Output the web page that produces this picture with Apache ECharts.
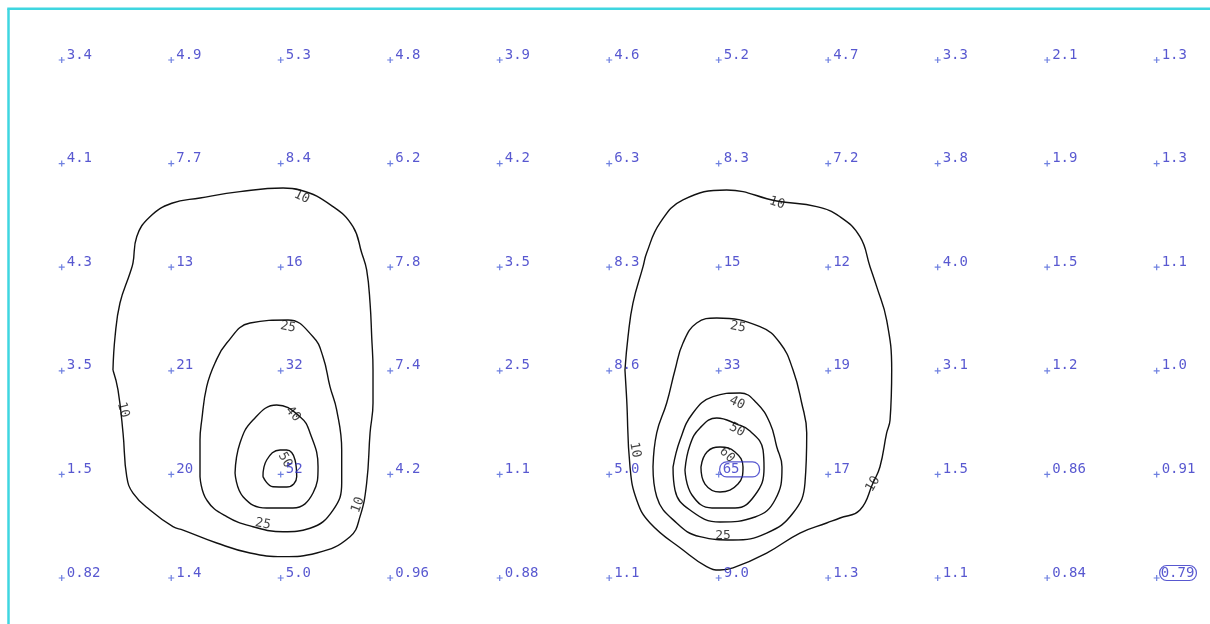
<!DOCTYPE html>
<html>
<head>
<meta charset="utf-8">
<script src="https://cdn.jsdelivr.net/npm/echarts@6/dist/echarts.min.js"></script>
<style>
html,body{margin:0;padding:0;background:#fff;}
#chart{width:1210px;height:624px;}
</style>
</head>
<body>
<div id="chart"></div>
<script>
// ---- grid values (rows top to bottom, columns left to right) ----
const row0 = [3.4, 4.9, 5.3, 4.8, 3.9, 4.6, 5.2, 4.7, 3.3, 2.1, 1.3];
const row1 = [4.1, 7.7, 8.4, 6.2, 4.2, 6.3, 8.3, 7.2, 3.8, 1.9, 1.3];
const row2 = [4.3, 13, 16, 7.8, 3.5, 8.3, 15, 12, 4.0, 1.5, 1.1];
const row3 = [3.5, 21, 32, 7.4, 2.5, 8.6, 33, 19, 3.1, 1.2, 1.0];
const row4 = [1.5, 20, 52, 4.2, 1.1, 5.0, 65, 17, 1.5, 0.86, 0.91];
const row5 = [0.82, 1.4, 5.0, 0.96, 0.88, 1.1, 9.0, 1.3, 1.1, 0.84, 0.79];
const gridRows = [row0, row1, row2, row3, row4, row5];
const boxedCells = [[6, 4, 'wide'], [10, 5, 'tight']];

// ---- contour lines, [column, row] in grid units ----
const contour10Left = [[1.005,1.383],[1.263,1.332],[1.628,1.271],[2.021,1.236],[2.176,1.255],[2.478,1.416],[2.660,1.609],[2.740,1.863],[2.785,2.027],[2.816,2.346],[2.831,2.671],[2.843,2.992],[2.843,3.311],[2.816,3.600],[2.785,4.083],[2.724,4.408],[2.633,4.601],[2.329,4.759],[2.021,4.794],[1.720,4.759],[1.416,4.662],[1.108,4.537],[1.016,4.505],[0.806,4.344],[0.651,4.180],[0.594,4.022],[0.560,3.600],[0.514,3.185],[0.468,2.992],[0.487,2.671],[0.532,2.346],[0.624,2.056],[0.651,1.959],[0.685,1.706],[0.806,1.513]];
const contour25Left = [[2.067,2.510],[2.295,2.671],[2.386,2.864],[2.450,3.153],[2.511,3.378],[2.557,3.764],[2.557,4.083],[2.478,4.344],[2.268,4.520],[2.021,4.553],[1.747,4.505],[1.507,4.408],[1.324,4.247],[1.263,4.022],[1.263,3.668],[1.279,3.475],[1.324,3.153],[1.400,2.925],[1.507,2.732],[1.720,2.539]];
const contour40Left = [[1.963,3.330],[2.176,3.443],[2.268,3.600],[2.341,3.926],[2.295,4.180],[2.112,4.324],[1.872,4.324],[1.656,4.215],[1.583,3.986],[1.628,3.697],[1.747,3.475]];
const contour50Left = [[2.055,3.764],[2.131,3.861],[2.146,4.022],[2.055,4.122],[1.930,4.119],[1.838,4.022],[1.872,3.861],[1.994,3.764]];
const contour10Right = [[6.073,1.255],[6.530,1.361],[6.895,1.416],[7.108,1.513],[7.290,1.706],[7.382,1.995],[7.443,2.188],[7.534,2.510],[7.580,2.992],[7.565,3.475],[7.534,3.600],[7.473,3.926],[7.409,4.083],[7.290,4.344],[7.108,4.421],[6.986,4.469],[6.742,4.566],[6.438,4.759],[6.131,4.903],[6.012,4.923],[5.890,4.891],[5.674,4.730],[5.373,4.469],[5.251,4.247],[5.190,3.926],[5.160,3.282],[5.144,2.992],[5.172,2.671],[5.217,2.346],[5.309,1.995],[5.342,1.863],[5.464,1.573],[5.674,1.351]];
const contour25Right = [[5.982,2.490],[6.377,2.574],[6.560,2.732],[6.679,2.992],[6.758,3.311],[6.804,3.600],[6.788,4.083],[6.679,4.373],[6.438,4.566],[6.131,4.633],[5.829,4.601],[5.616,4.469],[5.434,4.215],[5.400,3.926],[5.434,3.600],[5.525,3.311],[5.601,2.992],[5.674,2.732],[5.799,2.539]];
const contour40Right = [[6.195,3.214],[6.347,3.311],[6.468,3.504],[6.530,3.733],[6.578,3.929],[6.514,4.247],[6.332,4.411],[6.012,4.459],[5.738,4.344],[5.601,4.151],[5.583,3.929],[5.647,3.668],[5.765,3.407],[5.948,3.250]];
const contour50Right = [[5.982,3.456],[6.164,3.514],[6.286,3.581],[6.405,3.764],[6.414,3.938],[6.332,4.199],[6.149,4.324],[5.939,4.324],[5.756,4.199],[5.692,3.958],[5.738,3.716],[5.829,3.552]];
const contour60Right = [[6.012,3.736],[6.149,3.784],[6.222,3.929],[6.176,4.093],[6.012,4.170],[5.875,4.093],[5.838,3.929],[5.893,3.784]];
const contourLines = [contour10Left, contour25Left, contour40Left, contour50Left, contour10Right, contour25Right, contour40Right, contour50Right, contour60Right];

// contour labels: [column, row, level text, rotation]
const contourLabels = [
  [2.192, 1.322, '10', -25], [0.560, 3.378, '10', -75], [2.706, 4.295, '10', 70],
  [2.067, 2.577, '25', -12], [1.838, 4.479, '25', -12], [2.112, 3.417, '40', -50], [2.039, 3.861, '50', -60],
  [6.532, 1.380, '10', -18], [5.236, 3.764, '10', -80], [7.409, 4.093, '10', 60],
  [6.176, 2.577, '25', -12], [6.039, 4.595, '25', 0], [6.167, 3.311, '40', -25], [6.167, 3.571, '50', -30], [6.076, 3.813, '60', -45]
];

function fmt(v) {
  if (v >= 10) return v.toFixed(0);
  if (v >= 1) return v.toFixed(1);
  return v.toFixed(2);
}

// start each closed ring at its leftmost vertex (a near-vertical stretch) so the
// join of the smoothed path does not produce a visible cusp
function closedRing(pts) {
  let k = 0;
  pts.forEach(function (p, i) { if (p[0] < pts[k][0]) k = i; });
  const ring = pts.slice(k).concat(pts.slice(0, k));
  return ring.concat([ring[0]]);
}

const pointData = [];
gridRows.forEach(function (row, r) {
  row.forEach(function (v, c) {
    const item = { value: [c, r, v] };
    boxedCells.forEach(function (b) {
      if (b[0] === c && b[1] === r) {
        item.label = {
          borderColor: '#2e2ec4', borderWidth: 1.2, borderRadius: 7,
          padding: b[2] === 'wide' ? [1, 20, 0, 3] : [1, 2, 0, 1],
          distance: b[2] === 'wide' ? -2 : 0
        };
      }
    });
    pointData.push(item);
  });
});

const series = [];
contourLines.forEach(function (pts) {
  series.push({
    type: 'line',
    data: closedRing(pts),
    smooth: 0.45,
    symbol: 'none',
    silent: true,
    lineStyle: { color: '#111', width: 1.4 },
    z: 2
  });
});
series.push({
  type: 'scatter',
  data: contourLabels.map(function (d) {
    return { value: [d[0], d[1]], name: d[2], label: { rotate: d[3] } };
  }),
  symbolSize: 0,
  label: {
    show: true, position: 'inside', formatter: '{b}',
    fontFamily: 'DejaVu Sans Mono', fontSize: 13, color: '#111'
  },
  z: 3
});
series.push({
  type: 'scatter',
  data: pointData,
  symbol: 'path://M4,0H6V4H10V6H6V10H4V6H0V4H4Z',
  symbolSize: 6,
  itemStyle: { color: '#4a60d8' },
  label: {
    show: true, position: 'right', distance: 2, offset: [0, -5],
    formatter: function (p) { return fmt(p.value[2]); },
    fontFamily: 'DejaVu Sans Mono', fontSize: 14, color: '#2e2ec4'
  },
  z: 4
});

const chart = echarts.init(document.getElementById('chart'));
chart.setOption({
  animation: false,
  backgroundColor: '#ffffff',
  grid: { show: false, left: 8.5, top: 8.8, right: 0, bottom: 0 },
  xAxis: { type: 'value', min: -0.486, max: 10.487, show: false },
  yAxis: { type: 'value', inverse: true, min: -0.494, max: 5.444, show: false },
  graphic: [
    { type: 'line', shape: { x1: 8.5, y1: 8.8, x2: 8.5, y2: 624 }, style: { stroke: '#3fd6e0', lineWidth: 2.5 }, silent: true },
    { type: 'line', shape: { x1: 7.25, y1: 8.8, x2: 1210, y2: 8.8 }, style: { stroke: '#3fd6e0', lineWidth: 2.5 }, silent: true }
  ],
  series: series
});
</script>
</body>
</html>
